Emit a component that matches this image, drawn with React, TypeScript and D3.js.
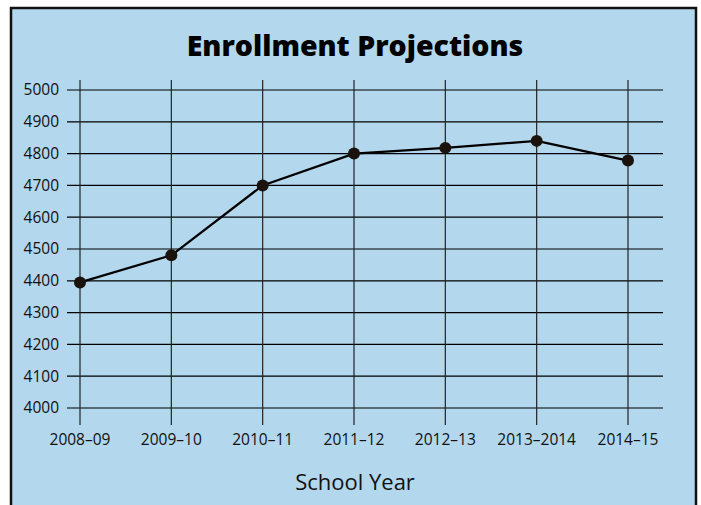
import * as d3 from 'd3';
import { useEffect, useRef } from 'react';

const years = ['2008–09', '2009–10', '2010–11', '2011–12', '2012–13', '2013–2014', '2014–15'];
const enrollment = [4395, 4480, 4700, 4800, 4818, 4840, 4778];
const yTicks = [4000, 4100, 4200, 4300, 4400, 4500, 4600, 4700, 4800, 4900, 5000];

const width = 701;
const height = 505;
const font = '"Open Sans", "Noto Sans", sans-serif';

export default function App() {
    const ref = useRef<SVGSVGElement>(null);

    useEffect(() => {
        const svg = d3.select(ref.current);
        svg.selectAll('*').remove();

        // panel with a heavy black frame
        svg.append('rect')
            .attr('x', 11).attr('y', 8)
            .attr('width', 685).attr('height', 510)
            .attr('fill', '#b3d7ec')
            .attr('stroke', '#111').attr('stroke-width', 2.5);

        const x = d3.scalePoint<string>().domain(years).range([80, 628]);
        const y = d3.scaleLinear().domain([4000, 5000]).range([408, 90]);

        svg.append('text')
            .attr('x', 355).attr('y', 56)
            .attr('text-anchor', 'middle')
            .attr('font-family', font).attr('font-weight', 800)
            .attr('font-size', 28.5).attr('fill', '#000')
            .text('Enrollment Projections');

        // horizontal grid lines, running a little past the first column like ticks
        svg.append('g').selectAll('line').data(yTicks).join('line')
            .attr('x1', 67).attr('x2', 663)
            .attr('y1', d => y(d)).attr('y2', d => y(d))
            .attr('stroke', '#000').attr('stroke-width', 1.2);

        svg.append('g').selectAll('line').data(years).join('line')
            .attr('x1', d => x(d)!).attr('x2', d => x(d)!)
            .attr('y1', 80).attr('y2', 425)
            .attr('stroke', '#222').attr('stroke-width', 1.2);

        svg.append('g').selectAll('text').data(yTicks).join('text')
            .attr('x', 59).attr('y', d => y(d))
            .attr('dy', '0.35em').attr('text-anchor', 'end')
            .attr('font-family', font).attr('font-size', 15.5).attr('fill', '#111')
            .text(d => d);

        svg.append('g').selectAll('text').data(years).join('text')
            .attr('x', d => x(d)!).attr('y', 440)
            .attr('dy', '0.35em').attr('text-anchor', 'middle')
            .attr('font-family', font).attr('font-size', 15.5).attr('fill', '#111')
            .text(d => d);

        svg.append('text')
            .attr('x', 355).attr('y', 490)
            .attr('text-anchor', 'middle')
            .attr('font-family', font).attr('font-size', 22).attr('fill', '#111')
            .text('School Year');

        const points = years.map((yr, i) => [x(yr)!, y(enrollment[i])] as [number, number]);

        svg.append('path')
            .attr('d', d3.line()(points))
            .attr('fill', 'none').attr('stroke', '#000').attr('stroke-width', 2.2);

        svg.append('g').selectAll('circle').data(points).join('circle')
            .attr('cx', d => d[0]).attr('cy', d => d[1])
            .attr('r', 6).attr('fill', '#1a120c');
    }, []);

    return (
        <svg ref={ref} width={width} height={height}
            style={{ position: 'absolute', left: 0, top: 0, background: '#fff' }} />
    );
}
